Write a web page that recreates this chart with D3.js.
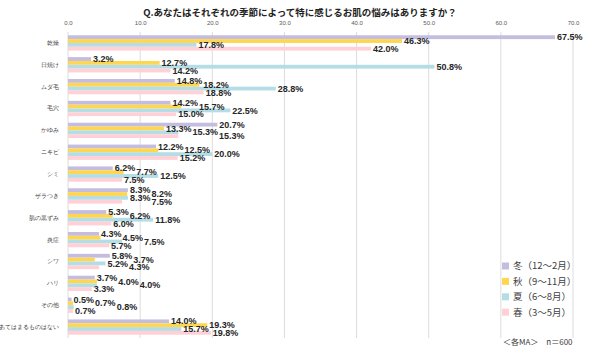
<!DOCTYPE html>
<html>
<head>
<meta charset="utf-8">
<script src="https://cdn.jsdelivr.net/npm/d3@7"></script>
<style>
  body { margin: 0; background: #fff; }
  svg { display: block; font-family: "Noto Sans CJK JP", "Liberation Sans", sans-serif; }
</style>
</head>
<body>
<div id="chart"></div>
<script>
const categories = ["乾燥", "日焼け", "ムダ毛", "毛穴", "かゆみ", "ニキビ", "シミ", "ザラつき",
  "肌の黒ずみ", "炎症", "シワ", "ハリ", "その他", "あてはまるものはない"];
const seasons = ["冬（12～2月）", "秋（9～11月）", "夏（6～8月）", "春（3～5月）"];
const winter = [67.5, 3.2, 14.8, 14.2, 20.7, 12.2, 6.2, 8.3, 5.3, 4.3, 5.8, 3.7, 0.5, 14.0];
const autumn = [46.3, 12.7, 18.2, 15.7, 13.3, 12.5, 7.7, 8.2, 6.2, 4.5, 3.7, 4.0, 0.7, 19.3];
const summer = [17.8, 50.8, 28.8, 22.5, 15.3, 20.0, 12.5, 8.3, 11.8, 7.5, 5.2, 4.0, 0.8, 15.7];
const spring = [42.0, 14.2, 18.8, 15.0, 15.3, 15.2, 7.5, 7.5, 6.0, 5.7, 4.3, 3.3, 0.7, 19.8];
const ticks = [0, 10, 20, 30, 40, 50, 60, 70];

const seriesValues = [winter, autumn, summer, spring];
const colors = ["#c4bde0", "#ffd650", "#b4dde6", "#ffd1d6"];

const width = 600, height = 354;
const margin = { top: 32, right: 27, bottom: 16, left: 68 };

const svg = d3.select("#chart").append("svg")
  .attr("width", width)
  .attr("height", height);

// Title
svg.append("text")
  .attr("x", 300)
  .attr("y", 16)
  .attr("text-anchor", "middle")
  .style("font-size", "9.5px")
  .style("font-weight", "bold")
  .style("fill", "#222")
  .text("Q.あなたはそれぞれの季節によって特に感じるお肌の悩みはありますか？");

const x = d3.scaleLinear()
  .domain([0, 70])
  .range([margin.left, width - margin.right]);

const y = d3.scaleBand()
  .domain(categories)
  .range([margin.top, height - margin.bottom])
  .paddingInner(0.3)
  .paddingOuter(0.15);

const ySub = d3.scaleBand()
  .domain(d3.range(seasons.length))
  .range([0, y.bandwidth()]);

// Gridlines
svg.append("g")
  .selectAll("line")
  .data(ticks)
  .join("line")
  .attr("x1", d => x(d))
  .attr("x2", d => x(d))
  .attr("y1", margin.top)
  .attr("y2", height - margin.bottom)
  .attr("stroke", "#dcdcdc")
  .attr("stroke-width", 1);

// Top axis labels
const xAxis = svg.append("g")
  .attr("transform", `translate(0,${margin.top - 4})`)
  .call(d3.axisTop(x).tickValues(ticks).tickFormat(d3.format(".1f")).tickSize(0));
xAxis.select(".domain").remove();
xAxis.selectAll("text")
  .style("font-family", "Liberation Sans, sans-serif")
  .style("font-size", "6px")
  .style("fill", "#595959");

// Category labels
const yAxis = svg.append("g")
  .attr("transform", `translate(${margin.left - 6},0)`)
  .call(d3.axisLeft(y).tickSize(0));
yAxis.select(".domain").remove();
yAxis.selectAll("text")
  .style("font-size", "5.8px")
  .style("fill", "#404040");

// Bars
const groups = svg.append("g")
  .selectAll("g")
  .data(categories)
  .join("g")
  .attr("transform", d => `translate(0,${y(d)})`);

groups.selectAll("rect")
  .data((d, i) => seriesValues.map((s, k) => ({ k, v: s[i] })))
  .join("rect")
  .attr("x", x(0))
  .attr("y", d => ySub(d.k))
  .attr("width", d => x(d.v) - x(0))
  .attr("height", ySub.bandwidth())
  .attr("fill", d => colors[d.k]);

// Value labels
groups.each(function (cat, i) {
  const labels = d3.select(this).selectAll("text.label")
    .data(seriesValues.map((s, k) => ({ k, v: s[i] })))
    .join("text")
    .attr("class", "label")
    .attr("x", d => x(d.v) + 2)
    .attr("y", d => ySub(d.k) + ySub.bandwidth() / 2)
    .attr("dy", "0.35em")
    .style("font-family", "Liberation Sans, sans-serif")
    .style("font-size", "9px")
    .style("font-weight", "bold")
    .style("fill", "#262626")
    .text(d => d3.format(".1f")(d.v) + "%");

  // nudge a label right when it runs into the one just above it
  let prevStart = null, prevEnd = null;
  labels.each(function () {
    const t = d3.select(this);
    let start = +t.attr("x");
    const w = this.getComputedTextLength();
    if (prevStart !== null && start < prevEnd + 1 && start + w > prevStart) {
      start = prevEnd + 1;
      t.attr("x", start);
    }
    prevStart = start;
    prevEnd = start + w;
  });
});

// Legend
const legend = svg.append("g")
  .attr("transform", "translate(502,266)");

const items = legend.selectAll("g")
  .data(seasons)
  .join("g")
  .attr("transform", (d, i) => `translate(0,${i * 15.4})`);

items.append("rect")
  .attr("x", 0)
  .attr("y", -3.5)
  .attr("width", 7)
  .attr("height", 7)
  .attr("fill", (d, i) => colors[i]);

items.append("text")
  .attr("x", 11)
  .attr("y", 0)
  .attr("dy", "0.35em")
  .style("font-size", "9.5px")
  .style("fill", "#404040")
  .text(d => d);

// Footnote
svg.append("text")
  .attr("x", 503)
  .attr("y", 345)
  .style("font-size", "8px")
  .style("fill", "#404040")
  .text("＜各MA＞　n＝600");
</script>
</body>
</html>
